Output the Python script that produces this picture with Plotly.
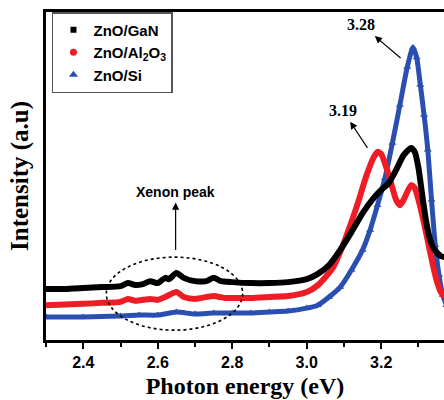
import plotly.graph_objects as go

# ---- data ----
gan_x = [2.30, 2.35, 2.40, 2.45, 2.50, 2.52, 2.54, 2.56, 2.58, 2.60, 2.62, 2.63, 2.65, 2.67, 2.70,
         2.73, 2.75, 2.77, 2.80, 2.85, 2.90, 2.95, 3.00, 3.03, 3.06, 3.09, 3.12, 3.15, 3.18, 3.20,
         3.22, 3.24, 3.26, 3.28, 3.29, 3.30, 3.31, 3.32, 3.33, 3.34, 3.35, 3.36, 3.37]
gan_y = [16.1, 16.1, 16.4, 16.7, 17.0, 17.9, 17.3, 17.6, 18.5, 17.9, 19.5, 19.1, 21.0, 19.5, 18.5,
         18.5, 19.5, 18.5, 18.2, 17.9, 17.9, 18.2, 19.1, 20.7, 23.4, 28.0, 33.4, 39.2, 43.8, 46.2,
         48.3, 52.3, 56.8, 59.0, 57.8, 52.9, 44.7, 37.1, 31.6, 28.6, 27.1, 26.1, 25.8]

al_x = [2.30, 2.40, 2.45, 2.50, 2.52, 2.54, 2.58, 2.60, 2.62, 2.65, 2.67, 2.70, 2.75, 2.78, 2.80,
        2.85, 2.90, 2.95, 3.00, 3.03, 3.07, 3.09, 3.12, 3.14, 3.16, 3.18, 3.19, 3.20, 3.22, 3.24,
        3.25, 3.26, 3.28, 3.29, 3.30, 3.31, 3.32, 3.33, 3.34, 3.35, 3.36, 3.37]
al_y = [11.2, 11.6, 11.9, 12.2, 13.1, 12.5, 13.1, 12.8, 13.7, 15.2, 13.7, 13.1, 14.0, 13.4, 13.4,
        13.4, 13.7, 14.0, 15.2, 17.3, 22.5, 27.4, 36.5, 43.2, 50.5, 56.2, 57.8, 57.1, 50.8, 43.2,
        41.6, 43.2, 47.7, 46.8, 43.2, 38.6, 33.4, 28.0, 22.8, 18.2, 15.2, 13.7]

si_x = [2.30, 2.40, 2.50, 2.55, 2.60, 2.65, 2.70, 2.75, 2.80, 2.85, 2.90, 2.95, 3.00, 3.03, 3.06,
        3.09, 3.12, 3.15, 3.17, 3.19, 3.21, 3.23, 3.25, 3.27, 3.285, 3.295, 3.305, 3.315, 3.325,
        3.335, 3.345, 3.355, 3.365, 3.375]
si_y = [7.6, 7.6, 7.9, 8.2, 8.2, 9.1, 8.5, 8.8, 8.8, 8.8, 9.1, 9.4, 10.3, 11.2, 13.7,
        16.7, 21.9, 28.0, 34.0, 41.6, 49.8, 60.5, 72.0, 83.6, 89.5, 86.5, 78.1, 69.0, 58.4,
        43.2, 29.5, 20.4, 14.3, 11.2]

series_names = ["ZnO/GaN", "ZnO/Al<sub>2</sub>O<sub>3</sub>", "ZnO/Si"]
tick_vals = [2.4, 2.6, 2.8, 3.0, 3.2]
tick_text = ["2.4", "2.6", "2.8", "3.0", "3.2"]

BLACK = "#000000"
RED = "#ee1c24"
BLUE = "#2a4fb0"

fig = go.Figure()

# curves
fig.add_trace(go.Scatter(x=si_x, y=si_y, mode="lines+markers", showlegend=False,
                         line=dict(color=BLUE, width=5, shape="spline", smoothing=0.6),
                         marker=dict(symbol="triangle-up", size=7, color=BLUE)))
fig.add_trace(go.Scatter(x=al_x, y=al_y, mode="lines", showlegend=False,
                         line=dict(color=RED, width=6, shape="spline", smoothing=0.6)))
fig.add_trace(go.Scatter(x=gan_x, y=gan_y, mode="lines", showlegend=False,
                         line=dict(color=BLACK, width=6, shape="spline", smoothing=0.6)))

# legend entries
fig.add_trace(go.Scatter(x=[None], y=[None], mode="markers", name=series_names[0],
                         marker=dict(symbol="square", size=6, color=BLACK)))
fig.add_trace(go.Scatter(x=[None], y=[None], mode="markers", name=series_names[1],
                         marker=dict(symbol="circle", size=7, color=RED)))
fig.add_trace(go.Scatter(x=[None], y=[None], mode="markers", name=series_names[2],
                         marker=dict(symbol="triangle-up", size=8, color=BLUE)))

serif_bold = dict(family="Liberation Serif", color="black", weight="bold")
sans_bold = dict(family="Liberation Sans", color="black", weight="bold")

arrow_style = dict(showarrow=True, arrowside="start", startarrowhead=2, startarrowsize=1.2,
                   arrowwidth=1.2, arrowcolor="black", axref="x", ayref="y")

annotations = [
    # (x, y) = arrow tail near the peak, (ax, ay) = label position; head drawn at the label end
    dict(x=3.252, y=86.3, ax=3.147, ay=96.4, text="3.28",
         font=dict(size=16, **serif_bold), startstandoff=2, **arrow_style),
    dict(x=3.163, y=59.0, ax=3.096, ay=70.5, text="3.19",
         font=dict(size=16, **serif_bold), startstandoff=2, **arrow_style),
    dict(x=2.648, y=28.0, ax=2.648, ay=45.6, text="Xenon peak",
         font=dict(size=14, **sans_bold), startstandoff=1, **arrow_style),
]

shapes = [
    dict(type="circle", xref="x", yref="y", x0=2.462, x1=2.828, y0=3.6, y1=25.8,
         line=dict(color="black", width=1.6, dash="dot")),
]

fig.update_layout(
    width=444, height=400,
    margin=dict(l=46, r=0, t=12, b=60),
    plot_bgcolor="white", paper_bgcolor="white",
    showlegend=True,
    legend=dict(x=0.015, y=1.0, xanchor="left", yanchor="top",
                bgcolor="white", bordercolor="#555555", borderwidth=1.5,
                font=dict(size=15, **sans_bold)),
    annotations=annotations,
    shapes=shapes,
    xaxis=dict(range=[2.3, 3.3685], tickvals=tick_vals, ticktext=tick_text,
               showline=True, mirror=True, linecolor="black", linewidth=2.5,
               ticks="outside", ticklen=6, tickwidth=2, tickcolor="black",
               minor=dict(ticks="outside", ticklen=4, tickwidth=2, tickcolor="black",
                          tickvals=[2.3, 2.5, 2.7, 2.9, 3.1, 3.3]),
               showgrid=False, zeroline=False,
               tickfont=dict(size=16, **sans_bold),
               title=dict(text="Photon energy (eV)", font=dict(size=24, **serif_bold), standoff=8)),
    yaxis=dict(range=[0.61, 100.3], showline=True, mirror=False, linecolor="black", linewidth=2.5,
               showticklabels=False, ticks="", showgrid=False, zeroline=False,
               title=dict(text="Intensity (a.u)", font=dict(size=25, **serif_bold), standoff=8)),
)

fig.write_html("out.html", config={"displayModeBar": False},
               post_script="document.body.style.margin='0';document.body.style.overflow='hidden';")
